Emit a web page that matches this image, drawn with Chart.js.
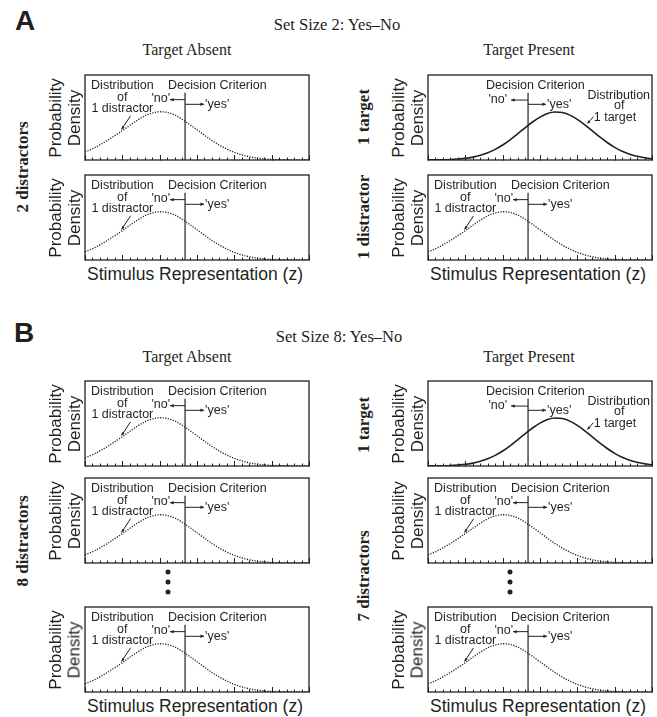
<!DOCTYPE html>
<html><head><meta charset="utf-8">
<script src="https://cdn.jsdelivr.net/npm/chart.js@4.4.1/dist/chart.umd.min.js"></script>
<style>
html,body{margin:0;padding:0;background:#fff;}
#fig{position:relative;width:657px;height:717px;overflow:hidden;background:#fff;}
.lbl{position:absolute;white-space:nowrap;line-height:1;color:#231f20;transform:translate(-50%,-50%);}
.rot{transform:translate(-50%,-50%) rotate(-90deg);}
.sans{font-family:"Liberation Sans",Arial,Helvetica,sans-serif;}
.serif{font-family:"Liberation Serif","Times New Roman",serif;}
.dot{position:absolute;width:5px;height:5px;border-radius:50%;background:#231f20;transform:translate(-50%,-50%);}
canvas{position:absolute;}
</style></head><body><div id="fig"></div>
<script>
// ---------------- data ----------------
const zValues = [-2.0,-1.8,-1.6,-1.4,-1.2,-1.0,-0.8,-0.6,-0.4,-0.2,0.0,0.2,0.4,0.6,0.8,1.0,1.2,1.4,1.6,1.8,2.0,2.2,2.4,2.6,2.8,3.0,3.2,3.4,3.6,3.8,4.0];
const distractorDensity = [0.097,0.132,0.178,0.230,0.287,0.345,0.408,0.468,0.519,0.553,0.568,0.560,0.530,0.480,0.420,0.356,0.292,0.230,0.175,0.128,0.090,0.060,0.038,0.023,0.013,0.007,0.004,0.002,0.001,0.000,0.000];
const targetDensity = [0.001,0.002,0.003,0.006,0.012,0.020,0.034,0.055,0.085,0.125,0.176,0.238,0.307,0.379,0.447,0.505,0.546,0.564,0.558,0.528,0.478,0.414,0.343,0.271,0.206,0.149,0.104,0.069,0.044,0.026,0.015];
const criterionZ = [0.68];
const criterionTop = [0.79];
const zRange = [-2, 4];
const majorTicks = [-2,-1,0,1,2,3,4];
const minorTicks = [-1.8,-1.6,-1.4,-1.2,-0.8,-0.6,-0.4,-0.2,0.2,0.4,0.6,0.8,1.2,1.4,1.6,1.8,2.2,2.4,2.6,2.8,3.2,3.4,3.6,3.8];
const sectionLetters = ['A','B'];
const setTitles = ['Set Size 2: Yes\u2013No','Set Size 8: Yes\u2013No'];
const columnTitles = ['Target Absent','Target Present'];
const yAxisLines = ['Probability','Density'];
const xAxisTitle = 'Stimulus Representation (z)';
const criterionText = 'Decision Criterion';
const noText = "'no'";
const yesText = "'yes'";
const distractorNote = ['Distribution','of','1 distractor'];
const targetNote = ['Distribution','of','1 target'];

// ---------------- layout ----------------
const INK = '#231f20';
const COLS = [{x:85,w:224},{x:428,w:224}];
const PH = 85;
const panels = [
  {col:0, top:75,  kind:'d'},
  {col:0, top:175, kind:'d', xt:true},
  {col:1, top:75,  kind:'t'},
  {col:1, top:175, kind:'d', xt:true},
  {col:0, top:381, kind:'d'},
  {col:0, top:478, kind:'d'},
  {col:0, top:607, kind:'d', xt:true},
  {col:1, top:381, kind:'t'},
  {col:1, top:478, kind:'d'},
  {col:1, top:607, kind:'d', xt:true}
];
const rowLabels = [
  {text:'2 distractors', x:22,  y:167},
  {text:'1 target',      x:363, y:117},
  {text:'1 distractor',  x:363, y:217},
  {text:'8 distractors', x:22,  y:541},
  {text:'1 target',      x:363, y:425},
  {text:'7 distractors', x:363, y:576}
];

const fig = document.getElementById('fig');
function addLabel(text, cx, cy, cls, size, extra){
  const d = document.createElement('div');
  d.className = 'lbl ' + cls;
  d.textContent = text;
  d.style.left = cx + 'px';
  d.style.top = cy + 'px';
  d.style.fontSize = size + 'px';
  if (extra) Object.assign(d.style, extra);
  fig.appendChild(d);
  return d;
}

// headers
addLabel(sectionLetters[0], 25, 21, 'sans', 28, {fontWeight:'bold'});
addLabel(sectionLetters[1], 24, 333, 'sans', 28, {fontWeight:'bold'});
addLabel(setTitles[0], 337, 25, 'serif', 16.5);
addLabel(setTitles[1], 339, 337, 'serif', 16.5);
addLabel(columnTitles[0], 187, 50, 'serif', 16);
addLabel(columnTitles[1], 529, 50, 'serif', 16);
addLabel(columnTitles[0], 187, 357, 'serif', 16);
addLabel(columnTitles[1], 529, 357, 'serif', 16);

rowLabels.forEach(r => {
  addLabel(r.text, r.x, r.y, 'serif rot', 17, {fontWeight:'bold'});
});

// ellipsis dots
[572, 582, 592].forEach(y => {
  [168, 510].forEach(x => {
    const d = document.createElement('div');
    d.className = 'dot';
    d.style.left = x + 'px'; d.style.top = y + 'px';
    fig.appendChild(d);
  });
});

function densityAt(arr, z){
  for (let i = 0; i < zValues.length - 1; i++) {
    if (z >= zValues[i] && z <= zValues[i+1]) {
      const t = (z - zValues[i]) / (zValues[i+1] - zValues[i]);
      return arr[i] + t * (arr[i+1] - arr[i]);
    }
  }
  return 0;
}

function arrow(ctx, x1, y1, x2, y2, head){
  head = head || 4;
  ctx.beginPath(); ctx.moveTo(x1, y1); ctx.lineTo(x2, y2); ctx.stroke();
  const ang = Math.atan2(y2 - y1, x2 - x1);
  ctx.beginPath();
  ctx.moveTo(x2, y2);
  ctx.lineTo(x2 - head * Math.cos(ang - 0.45), y2 - head * Math.sin(ang - 0.45));
  ctx.lineTo(x2 - head * Math.cos(ang + 0.45), y2 - head * Math.sin(ang + 0.45));
  ctx.closePath(); ctx.fill();
}

const framePlugin = {
  id: 'frame',
  afterDatasetsDraw(chart, args, opts){
    const {ctx, chartArea: a} = chart;
    const X = v => chart.scales.x.getPixelForValue(v);
    const Y = v => chart.scales.y.getPixelForValue(v);
    ctx.save();
    ctx.strokeStyle = INK; ctx.fillStyle = INK;
    // frame
    ctx.lineWidth = 1.3;
    ctx.strokeRect(a.left, a.top, a.right - a.left, a.bottom - a.top);
    // ticks
    ctx.lineWidth = 1;
    ctx.beginPath();
    minorTicks.forEach(v => { const p = Math.round(X(v)) + 0.5; ctx.moveTo(p, a.bottom); ctx.lineTo(p, a.bottom - 2.5); });
    majorTicks.forEach(v => { const p = Math.round(X(v)) + 0.5; ctx.moveTo(p, a.bottom + 0.5); ctx.lineTo(p, a.bottom - 5); });
    ctx.stroke();
    // annotations
    ctx.font = '12.5px "Liberation Sans", Arial, sans-serif';
    ctx.textBaseline = 'middle';
    const cx = X(criterionZ[0]);
    ctx.lineWidth = 1;
    if (opts.kind === 'd') {
      ctx.textAlign = 'center';
      ctx.fillText(distractorNote[0], X(-1.0), Y(0.872));
      ctx.fillText(distractorNote[1], X(-1.0), Y(0.735));
      ctx.fillText(distractorNote[2], X(-1.0), Y(0.600));
      ctx.textAlign = 'left';
      ctx.fillText(criterionText, cx - 17, Y(0.872));
      arrow(ctx, cx, Y(0.71), cx - 15, Y(0.71), 4);
      ctx.textAlign = 'right';
      ctx.fillText(noText, cx - 15, Y(0.725));
      arrow(ctx, cx, Y(0.655), cx + 19, Y(0.655), 4);
      ctx.textAlign = 'left';
      ctx.fillText(yesText, cx + 20, Y(0.655));
      const tz = -1.02;
      arrow(ctx, X(-0.78), Y(0.52), X(tz), Y(densityAt(distractorDensity, tz) + 0.02), 3.5);
    } else {
      ctx.textAlign = 'left';
      ctx.fillText(criterionText, cx - 42, Y(0.872));
      arrow(ctx, cx, Y(0.705), cx - 17, Y(0.705), 4);
      ctx.textAlign = 'right';
      ctx.fillText(noText, cx - 21, Y(0.715));
      arrow(ctx, cx, Y(0.655), cx + 18, Y(0.655), 4);
      ctx.textAlign = 'left';
      ctx.fillText(yesText, cx + 19, Y(0.655));
      ctx.textAlign = 'center';
      ctx.fillText(targetNote[0], X(3.11), Y(0.76));
      ctx.fillText(targetNote[1], X(3.12), Y(0.635));
      ctx.textAlign = 'left';
      ctx.fillText(targetNote[2], X(2.44), Y(0.505));
      const tz = 2.27;
      arrow(ctx, X(2.43), Y(0.51), X(tz), Y(densityAt(targetDensity, tz) + 0.04), 3.5);
    }
    ctx.restore();
  }
};

panels.forEach(p => {
  const col = COLS[p.col];
  const cv = document.createElement('canvas');
  cv.width = col.w + 4; cv.height = PH + 4;
  cv.style.left = (col.x - 2) + 'px';
  cv.style.top = (p.top - 2) + 'px';
  cv.style.width = cv.width + 'px'; cv.style.height = cv.height + 'px';
  fig.appendChild(cv);

  const curve = p.kind === 't' ? targetDensity : distractorDensity;
  const dotted = p.kind !== 't';
  new Chart(cv, {
    type: 'line',
    data: {
      datasets: [
        {
          data: zValues.map((z, i) => ({x: z, y: curve[i]})),
          borderColor: dotted ? '#262626' : INK,
          borderWidth: dotted ? 1.35 : 1.6,
          borderDash: dotted ? [1.2, 1.4] : [],
          pointRadius: 0,
          cubicInterpolationMode: 'monotone',
          fill: false
        },
        {
          data: [{x: criterionZ[0], y: 0}, {x: criterionZ[0], y: criterionTop[0]}],
          borderColor: INK,
          borderWidth: 1.2,
          pointRadius: 0,
          fill: false
        }
      ]
    },
    options: {
      responsive: false,
      maintainAspectRatio: false,
      animation: false,
      events: [],
      layout: {padding: 2},
      plugins: {legend: {display: false}, tooltip: {enabled: false}, frame: {kind: p.kind}},
      scales: {
        x: {type: 'linear', min: zRange[0], max: zRange[1], display: false},
        y: {type: 'linear', min: 0, max: 1, display: false}
      }
    },
    plugins: [framePlugin]
  });

  const cy = p.top + PH / 2;
  addLabel(yAxisLines[0], col.x - 30, cy, 'sans rot', 17);
  addLabel(yAxisLines[1], col.x - 11, cy, 'sans rot', 17);
  if (p.xt) addLabel(xAxisTitle, col.x + col.w / 2 - 2, p.top + PH + 15, 'sans', 17.5);
});
</script>
</body></html>
